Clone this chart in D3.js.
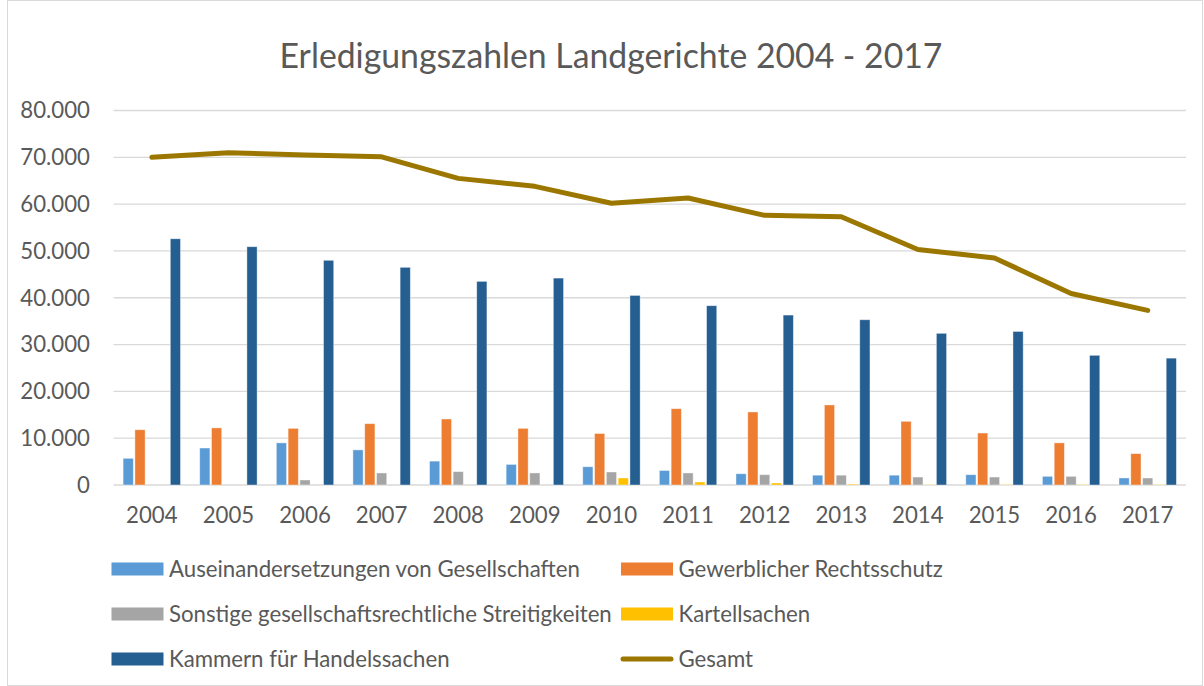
<!DOCTYPE html>
<meta charset="utf-8">
<style>
  body { margin: 0; background: #fff; }
  text { font-family: Lato, "Open Sans", sans-serif; fill: #595959; }
</style>

<svg width="1204" height="686"></svg>

<script src="https://cdn.jsdelivr.net/npm/d3@7"></script>
<script>

var years = ['2004', '2005', '2006', '2007', '2008', '2009', '2010',
  '2011', '2012', '2013', '2014', '2015', '2016', '2017']

var auseinandersetzungen = [5700, 7900, 9000, 7500, 5100, 4400, 3900, 3100, 2400, 2100, 2100, 2200, 1850, 1500]
var gewerblicher = [11800, 12200, 12100, 13100, 14100, 12100, 11000, 16300, 15600, 17100, 13600, 11100, 9000, 6700]
var sonstige = [0, 0, 1070, 2570, 2850, 2570, 2780, 2570, 2200, 2100, 1700, 1700, 1850, 1500]
var kartell = [0, 0, 0, 0, 0, 0, 1500, 640, 430, 200, 100, 100, 100, 100]
var kammern = [52600, 50900, 48000, 46500, 43500, 44200, 40500, 38300, 36300, 35300, 32400, 32800, 27700, 27100]
var gesamt = [70000, 71000, 70500, 70100, 65500, 63800, 60200, 61300, 57600, 57300, 50300, 48500, 40900, 37300]

var yTicks = [0, 10000, 20000, 30000, 40000, 50000, 60000, 70000, 80000]

var barSeries = [
  { name: 'Auseinandersetzungen von Gesellschaften', values: auseinandersetzungen, color: '#5B9BD5' },
  { name: 'Gewerblicher Rechtsschutz', values: gewerblicher, color: '#ED7D31' },
  { name: 'Sonstige gesellschaftsrechtliche Streitigkeiten', values: sonstige, color: '#A5A5A5' },
  { name: 'Kartellsachen', values: kartell, color: '#FFC000' },
  { name: 'Kammern für Handelssachen', values: kammern, color: '#255E91' }
]
var lineSeries = { name: 'Gesamt', values: gesamt, color: '#9C7700' }

var svg = d3.select('svg')

// chart frame
svg.append('rect')
  .attr('x', 7.5).attr('y', 0.5)
  .attr('width', 1195).attr('height', 685)
  .attr('fill', '#fff')
  .attr('stroke', '#D9D9D9')

var x = d3.scaleBand().domain(years).range([113.5, 1186]).paddingInner(0).paddingOuter(0)
var inner = d3.scaleBand().domain(d3.range(barSeries.length))
  .range([x.bandwidth() * 0.115, x.bandwidth() * 0.885])
var y = d3.scaleLinear().domain([0, 80000]).range([485, 110.5])

var fmt = d3.formatLocale({ decimal: ',', thousands: '.', grouping: [3], currency: ['', '€'] }).format(',d')

// gridlines
svg.append('g')
  .selectAll('line')
  .data(yTicks)
  .join('line')
  .attr('x1', 113.5).attr('x2', 1186)
  .attr('y1', function (d) { return y(d) }).attr('y2', function (d) { return y(d) })
  .attr('stroke', '#D9D9D9')
  .attr('stroke-width', 1.3)

// measure a long legend label so the substitute font matches the original width
var probe = svg.append('text').attr('font-size', 23).text(barSeries[0].name)
var baseSize = 23 * 411 / probe.node().getComputedTextLength()
probe.remove()

// y axis labels
svg.append('g')
  .selectAll('text')
  .data(yTicks)
  .join('text')
  .attr('x', 90)
  .attr('y', function (d) { return y(d) })
  .attr('dy', '0.35em')
  .attr('text-anchor', 'end')
  .attr('font-size', baseSize)
  .text(function (d) { return fmt(d) })

// x axis labels
svg.append('g')
  .selectAll('text')
  .data(years)
  .join('text')
  .attr('x', function (d) { return x(d) + x.bandwidth() / 2 })
  .attr('y', 523)
  .attr('text-anchor', 'middle')
  .attr('font-size', baseSize)
  .text(function (d) { return d })

// bars
barSeries.forEach(function (s, i) {
  svg.append('g')
    .selectAll('rect')
    .data(s.values)
    .join('rect')
    .attr('x', function (d, j) { return x(years[j]) + inner(i) + 0.8 })
    .attr('width', inner.bandwidth() - 1.6)
    .attr('y', function (d) { return y(d) })
    .attr('height', function (d) { return y(0) - y(d) })
    .attr('fill', s.color)
    .attr('stroke', '#fff')
    .attr('stroke-opacity', 0.5)
    .attr('stroke-width', function (d) { return d > 0 ? 0.8 : 0 })
})

// total line
var line = d3.line()
  .x(function (d, j) { return x(years[j]) + x.bandwidth() / 2 })
  .y(function (d) { return y(d) })

svg.append('path')
  .datum(lineSeries.values)
  .attr('d', line)
  .attr('fill', 'none')
  .attr('stroke', lineSeries.color)
  .attr('stroke-width', 5)
  .attr('stroke-linecap', 'round')
  .attr('stroke-linejoin', 'round')

// title
var title = svg.append('text')
  .attr('x', 611)
  .attr('y', 68)
  .attr('text-anchor', 'middle')
  .attr('font-size', 36)
  .text('Erledigungszahlen Landgerichte 2004 - 2017')
title.attr('font-size', 36 * 663 / title.node().getComputedTextLength())

// legend
var legendItems = [
  { s: barSeries[0], col: 0, row: 0 },
  { s: barSeries[1], col: 1, row: 0 },
  { s: barSeries[2], col: 0, row: 1 },
  { s: barSeries[3], col: 1, row: 1 },
  { s: barSeries[4], col: 0, row: 2 },
  { s: lineSeries, col: 1, row: 2, line: true }
]
var colX = [111.5, 621]
var rowY = [569, 614, 659]

var legend = svg.append('g')
legendItems.forEach(function (item) {
  var lx = colX[item.col]
  var ly = rowY[item.row]
  if (item.line) {
    legend.append('line')
      .attr('x1', lx + 2).attr('x2', lx + 50)
      .attr('y1', ly).attr('y2', ly)
      .attr('stroke', item.s.color)
      .attr('stroke-width', 5)
      .attr('stroke-linecap', 'round')
  } else {
    legend.append('rect')
      .attr('x', lx).attr('y', ly - 6.5)
      .attr('width', 52).attr('height', 13)
      .attr('fill', item.s.color)
  }
  legend.append('text')
    .attr('x', lx + 57.5)
    .attr('y', ly)
    .attr('dy', '0.35em')
    .attr('font-size', baseSize)
    .text(item.s.name)
})

</script>
